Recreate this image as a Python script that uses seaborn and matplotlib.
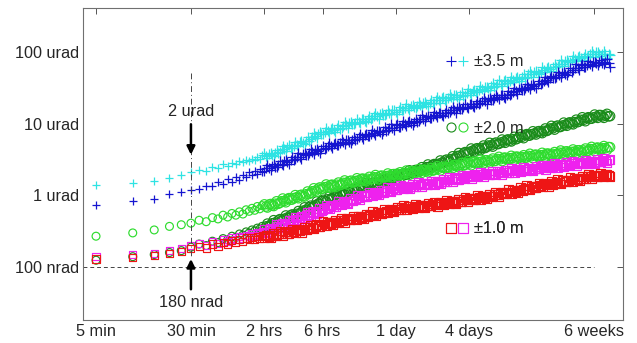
import matplotlib
matplotlib.use('Agg')
import matplotlib.pyplot as plt
from matplotlib.lines import Line2D
from matplotlib.legend_handler import HandlerTuple
from matplotlib.ticker import NullLocator
import seaborn as sns

# elapsed time in minutes (every 5 min up to 2 hrs, then thinned out)
minutes = [5, 10, 15, 20, 25, 30, 35, 40, 45, 50, 55, 60, 65, 70, 75, 80,
           85, 90, 95, 100, 105, 110, 115,
           120, 127, 135, 143, 151, 161, 170, 180, 191, 203,
           215, 228, 241, 256, 271, 287, 305, 323, 342, 363,
           385, 408, 432, 458, 486, 515, 546, 578, 613, 650,
           689, 730, 774, 820, 870, 922, 977, 1036, 1098, 1164,
           1234, 1308, 1386, 1469, 1558, 1651, 1750, 1855, 1966, 2084,
           2209, 2342, 2482, 2631, 2789, 2957, 3134, 3322, 3521, 3733,
           3957, 4194, 4446, 4712, 4995, 5295, 5612, 5949, 6306, 6684,
           7085, 7510, 7961, 8439, 8945, 9482, 10051, 10654, 11293, 11971,
           12689, 13450, 14257, 15113, 16019, 16980, 17999, 19079, 20224, 21438,
           22724, 24087, 25532, 27064, 28688, 30409, 32234, 34168, 36218, 38391,
           40695, 43136, 45725, 48468, 51376, 54459, 57726, 61190, 64861, 68753,
           72878, 77251, 81886]

# extra samples in between, from 2 hrs on
minutes_b = [124, 131, 139, 147, 156, 166, 175, 185, 197, 209,
             221, 235, 248, 264, 279, 296, 314, 333, 352, 374,
             397, 420, 445, 472, 501, 530, 562, 595, 631, 670,
             710, 752, 797, 845, 896, 950, 1006, 1067, 1131, 1199,
             1271, 1347, 1428, 1513, 1605, 1701, 1803, 1911, 2025, 2147,
             2275, 2412, 2556, 2710, 2873, 3046, 3228, 3422, 3627, 3845,
             4076, 4320, 4579, 4853, 5145, 5454, 5780, 6127, 6495, 6885,
             7298, 7735, 8200, 8692, 9213, 9766, 10353, 10974, 11632, 12330,
             13070, 13854, 14685, 15566, 16500, 17489, 18539, 19651, 20831, 22081,
             23406, 24810, 26298, 27876, 29549, 31321, 33201, 35193, 37305, 39543,
             41916, 44430, 47097, 49922, 52917, 56093, 59458, 63026, 66807, 70816,
             75064, 79569]

# tilt in urad, +/-3.5 m
cyan_35 = [1.38, 1.5, 1.6, 1.75, 1.9, 2.1, 2.25, 2.2, 2.45, 2.4, 2.7, 2.6, 2.85, 2.7, 3.0, 2.9,
           3.15, 3.0, 3.25, 3.1, 3.45, 3.25, 3.6,
           3.85, 3.34, 3.88, 3.49, 4.35, 4.06, 4.92, 4.10, 4.97, 4.62,
           5.61, 4.88, 5.67, 5.13, 6.45, 6.07, 7.41, 6.24, 7.62, 7.14,
           8.62, 7.43, 8.58, 7.65, 9.48, 8.77, 10.56, 8.75, 10.52, 9.72,
           11.73, 10.12, 11.66, 10.37, 12.82, 11.84, 14.21, 11.75, 14.11, 13.0,
           15.65, 13.47, 15.52, 13.8, 16.98, 15.59, 18.61, 15.31, 18.29, 16.76,
           20.08, 17.19, 19.69, 17.42, 21.43, 19.68, 23.52, 19.35, 23.2, 21.24,
           25.52, 21.9, 25.13, 22.25, 27.39, 25.15, 30.13, 24.75, 29.72, 27.45,
           33.11, 28.52, 32.86, 29.28, 36.27, 33.5, 40.21, 33.3, 40.0, 36.94,
           44.55, 38.36, 44.29, 39.43, 48.79, 45.12, 54.21, 44.91, 53.97, 49.82,
           60.5, 52.44, 60.87, 54.56, 68.05, 63.26, 76.61, 63.81, 77.18, 71.63,
           87.01, 75.44, 86.42, 76.36, 93.84, 86.11, 102.8, 84.51, 100.8, 88.27,
           101.1, 82.71, 90.64]
cyan_35_b = [3.5, 3.78, 3.66, 3.92, 3.91, 4.36, 4.39, 4.79, 4.64, 4.91,
             5.10, 5.51, 5.34, 5.76, 5.79, 6.51, 6.62, 7.28, 7.11, 7.6,
             7.84, 8.40, 8.08, 8.59, 8.51, 9.41, 9.43, 10.21, 9.82, 10.34,
             10.66, 11.44, 10.98, 11.65, 11.50, 12.70, 12.69, 13.71, 13.17, 13.83,
             14.23, 15.23, 14.62, 15.5, 15.24, 16.73, 16.62, 17.86, 17.07, 17.83,
             18.25, 19.43, 18.55, 19.57, 19.23, 21.12, 21.0, 22.58, 21.66, 22.6,
             23.2, 24.75, 23.67, 25.0, 24.58, 26.99, 26.9, 28.88, 27.73, 29.2,
             30.1, 32.24, 30.94, 32.9, 32.54, 35.95, 35.9, 38.85, 37.34, 39.3,
             40.5, 43.37, 41.71, 44.3, 43.78, 48.41, 48.4, 52.4, 50.37, 53.0,
             55.0, 59.28, 57.33, 61.3, 61.06, 67.88, 68.4, 74.45, 72.03, 76.2,
             79.1, 85.28, 81.38, 85.8, 84.19, 92.39, 91.8, 98.6, 94.08, 93.9,
             91.9, 93.5]
blue_35 = [0.73, 0.83, 0.9, 1.03, 1.1, 1.17, 1.22, 1.35, 1.33, 1.55, 1.42, 1.7, 1.55, 1.82, 1.65, 1.92,
           1.8, 2.1, 1.9, 2.2, 1.98, 2.35, 2.1,
           2.21, 2.68, 2.23, 2.70, 2.51, 3.05, 2.65, 3.08, 2.76, 3.45,
           3.21, 3.89, 3.24, 3.92, 3.63, 4.4, 3.81, 4.42, 3.95, 4.92,
           4.54, 5.45, 4.52, 5.42, 4.99, 6.02, 5.18, 5.96, 5.30, 6.57,
           6.07, 7.28, 6.03, 7.25, 6.68, 8.05, 6.94, 8.0, 7.13, 8.83,
           8.16, 9.81, 8.12, 9.77, 8.99, 10.81, 9.30, 10.71, 9.51, 11.77,
           10.86, 13.03, 10.76, 12.92, 11.88, 14.3, 12.31, 14.17, 12.6, 15.59,
           14.39, 17.27, 14.28, 17.15, 15.79, 19.01, 16.36, 18.85, 16.77, 20.76,
           19.17, 23.03, 19.05, 22.89, 21.1, 25.42, 21.9, 25.24, 22.57, 28.08,
           26.07, 31.48, 26.19, 31.62, 29.3, 35.49, 30.72, 35.59, 31.83, 39.59,
           36.96, 44.91, 37.62, 45.68, 42.58, 51.81, 45.17, 52.63, 47.35, 59.28,
           55.3, 67.2, 55.53, 66.68, 61.38, 73.81, 63.48, 73.13, 64.97, 77.04,
           68.16, 78.4, 62.1]
blue_35_b = [2.37, 2.39, 2.60, 2.52, 2.67, 2.77, 3.00, 2.90, 3.10, 3.09,
             3.44, 3.47, 3.78, 3.66, 3.86, 4.0, 4.31, 4.16, 4.44, 4.42,
             4.87, 4.87, 5.27, 5.06, 5.31, 5.47, 5.86, 5.62, 5.96, 5.89,
             6.51, 6.5, 7.04, 6.76, 7.11, 7.32, 7.84, 7.54, 8.01, 7.92,
             8.76, 8.76, 9.47, 9.11, 9.56, 9.83, 10.51, 10.09, 10.69, 10.56,
             11.65, 11.63, 12.56, 12.05, 12.64, 13.0, 13.92, 13.35, 14.16, 13.99,
             15.44, 15.42, 16.66, 16.0, 16.8, 17.28, 18.49, 17.75, 18.84, 18.62,
             20.57, 20.56, 22.23, 21.36, 22.45, 23.11, 24.75, 23.77, 25.36, 25.19,
             27.97, 28.11, 30.56, 29.51, 31.17, 32.26, 34.73, 33.51, 35.76, 35.52,
             39.66, 40.1, 43.89, 42.63, 45.3, 47.1, 51.06, 49.57, 53.2, 53.18,
             59.33, 60.0, 64.79, 62.23, 65.3, 67.1, 71.76, 68.87, 73.0, 69.12,
             73.13, 70.0]

# +/-2.0 m
lgreen_20 = [0.27, 0.3, 0.33, 0.37, 0.39, 0.41, 0.45, 0.43, 0.49, 0.47, 0.53, 0.5, 0.56, 0.53, 0.59, 0.55,
             0.63, 0.6, 0.66, 0.62, 0.7, 0.65, 0.72,
             0.749, 0.678, 0.758, 0.711, 0.827, 0.788, 0.904, 0.802, 0.915, 0.878,
             1.008, 0.913, 1.02, 0.965, 1.132, 1.085, 1.255, 1.122, 1.29, 1.248,
             1.419, 1.272, 1.408, 1.309, 1.508, 1.421, 1.614, 1.417, 1.602, 1.523,
             1.731, 1.551, 1.709, 1.581, 1.811, 1.698, 1.919, 1.677, 1.885, 1.783,
             2.017, 1.798, 1.98, 1.832, 2.097, 1.963, 2.216, 1.934, 2.172, 2.052,
             2.319, 2.065, 2.272, 2.099, 2.402, 2.25, 2.548, 2.23, 2.511, 2.38,
             2.696, 2.408, 2.657, 2.464, 2.828, 2.656, 3.007, 2.632, 2.954, 2.79,
             3.15, 2.804, 3.083, 2.849, 3.259, 3.051, 3.442, 3.004, 3.359, 3.16,
             3.556, 3.154, 3.455, 3.18, 3.624, 3.379, 3.798, 3.302, 3.692, 3.475,
             3.915, 3.477, 3.814, 3.514, 4.011, 3.745, 4.215, 3.669, 4.108, 3.87,
             4.36, 3.873, 4.255, 3.929, 4.493, 4.203, 4.739, 4.133, 4.635, 4.344,
             4.869, 4.301, 4.692]
lgreen_20_b = [0.70, 0.743, 0.728, 0.765, 0.764, 0.828, 0.837, 0.888, 0.870, 0.915,
               0.942, 1.0, 0.98, 1.038, 1.046, 1.141, 1.162, 1.242, 1.227, 1.3,
               1.326, 1.394, 1.352, 1.408, 1.393, 1.494, 1.494, 1.570, 1.524, 1.586,
               1.618, 1.70, 1.642, 1.70, 1.673, 1.786, 1.777, 1.857, 1.793, 1.857,
               1.885, 1.970, 1.902, 1.97, 1.937, 2.064, 2.052, 2.142, 2.067, 2.138,
               2.167, 2.263, 2.182, 2.257, 2.219, 2.366, 2.359, 2.47, 2.389, 2.479,
               2.52, 2.639, 2.553, 2.649, 2.612, 2.793, 2.784, 2.915, 2.811, 2.906,
               2.944, 3.072, 2.963, 3.063, 3.011, 3.208, 3.187, 3.327, 3.196, 3.292,
               3.323, 3.456, 3.319, 3.419, 3.347, 3.554, 3.517, 3.657, 3.512, 3.62,
               3.659, 3.81, 3.664, 3.779, 3.705, 3.938, 3.903, 4.063, 3.908, 4.031,
               4.075, 4.244, 4.089, 4.225, 4.151, 4.42, 4.388, 4.577, 4.41, 4.525,
               4.55, 4.712]
dgreen_20 = [0.125, 0.14, 0.15, 0.16, 0.17, 0.19, 0.21, 0.2, 0.23, 0.22, 0.25, 0.24, 0.27, 0.26, 0.29, 0.28,
             0.31, 0.3, 0.33, 0.32, 0.35, 0.34, 0.37,
             0.344, 0.404, 0.389, 0.451, 0.405, 0.467, 0.452, 0.525, 0.48, 0.543,
             0.514, 0.605, 0.582, 0.681, 0.617, 0.718, 0.703, 0.824, 0.76, 0.867,
             0.819, 0.958, 0.917, 1.057, 0.943, 1.083, 1.045, 1.207, 1.098, 1.234,
             1.166, 1.365, 1.299, 1.489, 1.321, 1.506, 1.446, 1.66, 1.501, 1.678,
             1.575, 1.831, 1.742, 1.998, 1.773, 2.023, 1.943, 2.231, 2.02, 2.258,
             2.121, 2.468, 2.349, 2.695, 2.391, 2.73, 2.644, 3.061, 2.795, 3.151,
             2.985, 3.503, 3.362, 3.89, 3.48, 4.006, 3.879, 4.494, 4.064, 4.538,
             4.258, 4.949, 4.705, 5.391, 4.778, 5.447, 5.224, 5.992, 5.406, 6.023,
             5.64, 6.538, 6.203, 7.092, 6.271, 7.133, 6.827, 7.813, 7.048, 7.854,
             7.366, 8.554, 8.129, 9.31, 8.245, 9.394, 9.006, 10.32, 9.33, 10.41,
             9.765, 11.34, 10.74, 12.25, 10.8, 12.26, 11.7, 13.36, 12.03, 13.13,
             12.04, 13.67, 12.71]
dgreen_20_b = [0.37, 0.373, 0.409, 0.418, 0.448, 0.444, 0.471, 0.491, 0.526, 0.521,
               0.553, 0.559, 0.612, 0.631, 0.683, 0.683, 0.732, 0.77, 0.833, 0.833,
               0.881, 0.885, 0.964, 0.979, 1.044, 1.03, 1.089, 1.128, 1.203, 1.186,
               1.254, 1.261, 1.366, 1.379, 1.463, 1.433, 1.506, 1.551, 1.645, 1.612,
               1.694, 1.692, 1.832, 1.85, 1.963, 1.925, 2.024, 2.085, 2.213, 2.17,
               2.281, 2.28, 2.47, 2.495, 2.648, 2.597, 2.754, 2.861, 3.062, 3.027,
               3.21, 3.236, 3.535, 3.602, 3.854, 3.811, 4.041, 4.2, 4.453, 4.36,
               4.579, 4.572, 4.947, 4.992, 5.292, 5.182, 5.442, 5.6, 5.924, 5.787,
               6.064, 6.04, 6.523, 6.567, 6.945, 6.787, 7.111, 7.302, 7.723, 7.546,
               7.92, 7.903, 8.548, 8.62, 9.132, 8.938, 9.381, 9.649, 10.22, 10.01,
               10.5, 10.48, 11.29, 11.34, 11.96, 11.66, 12.19, 12.49, 13.18, 12.61,
               12.95, 12.63]

# +/-1.0 m
magenta_10 = [0.14, 0.15, 0.155, 0.17, 0.18, 0.2, 0.215, 0.2, 0.23, 0.215, 0.24, 0.23, 0.255, 0.24, 0.27, 0.255,
              0.28, 0.265, 0.29, 0.275, 0.3, 0.29, 0.315,
              0.335, 0.3, 0.346, 0.335, 0.389, 0.355, 0.402, 0.381, 0.447, 0.431,
              0.499, 0.446, 0.515, 0.498, 0.577, 0.526, 0.593, 0.561, 0.657, 0.631,
              0.725, 0.644, 0.736, 0.708, 0.814, 0.739, 0.827, 0.778, 0.907, 0.865,
              0.994, 0.884, 1.002, 0.957, 1.094, 0.984, 1.093, 1.022, 1.182, 1.118,
              1.275, 1.125, 1.277, 1.219, 1.378, 1.228, 1.35, 1.248, 1.429, 1.339,
              1.511, 1.32, 1.482, 1.401, 1.583, 1.41, 1.559, 1.447, 1.664, 1.566,
              1.776, 1.558, 1.757, 1.668, 1.894, 1.694, 1.873, 1.739, 1.989, 1.859,
              2.097, 1.828, 2.051, 1.935, 2.185, 1.943, 2.136, 1.972, 2.251, 2.104,
              2.368, 2.063, 2.311, 2.178, 2.456, 2.182, 2.395, 2.209, 2.522, 2.357,
              2.656, 2.314, 2.593, 2.445, 2.757, 2.452, 2.692, 2.483, 2.837, 2.652,
              2.988, 2.604, 2.913, 2.742, 3.086, 2.737, 3.0, 2.762, 3.15, 2.92,
              3.262, 2.818, 3.131]
magenta_10_b = [0.31, 0.333, 0.329, 0.349, 0.364, 0.389, 0.386, 0.41, 0.413, 0.453,
                0.462, 0.494, 0.49, 0.519, 0.539, 0.577, 0.569, 0.603, 0.607, 0.663,
                0.671, 0.713, 0.701, 0.738, 0.761, 0.81, 0.795, 0.837, 0.838, 0.91,
                0.92, 0.979, 0.954, 0.997, 1.022, 1.078, 1.051, 1.099, 1.092, 1.176,
                1.181, 1.246, 1.215, 1.27, 1.288, 1.345, 1.298, 1.342, 1.32, 1.408,
                1.399, 1.462, 1.41, 1.459, 1.479, 1.545, 1.497, 1.556, 1.537, 1.646,
                1.644, 1.725, 1.672, 1.737, 1.77, 1.856, 1.799, 1.87, 1.837, 1.955,
                1.942, 2.025, 1.951, 2.016, 2.042, 2.129, 2.052, 2.12, 2.08, 2.212,
                2.193, 2.285, 2.199, 2.269, 2.295, 2.391, 2.301, 2.375, 2.33, 2.479,
                2.459, 2.563, 2.467, 2.547, 2.577, 2.686, 2.586, 2.67, 2.621, 2.789,
                2.767, 2.884, 2.771, 2.856, 2.884, 2.999, 2.882, 2.97, 2.91, 3.07,
                3.02, 3.121]
red_10 = [0.13, 0.135, 0.145, 0.155, 0.165, 0.18, 0.195, 0.185, 0.21, 0.195, 0.22, 0.21, 0.235, 0.22, 0.245, 0.23,
          0.255, 0.24, 0.262, 0.245, 0.27, 0.25, 0.275,
          0.254, 0.281, 0.259, 0.298, 0.28, 0.318, 0.278, 0.313, 0.297, 0.336,
          0.3, 0.332, 0.307, 0.356, 0.339, 0.387, 0.342, 0.39, 0.373, 0.428,
          0.384, 0.423, 0.393, 0.453, 0.426, 0.483, 0.424, 0.478, 0.454, 0.516,
          0.462, 0.51, 0.475, 0.548, 0.518, 0.59, 0.519, 0.587, 0.56, 0.637,
          0.572, 0.634, 0.591, 0.683, 0.638, 0.719, 0.627, 0.702, 0.662, 0.747,
          0.665, 0.729, 0.673, 0.769, 0.719, 0.81, 0.708, 0.795, 0.752, 0.85,
          0.757, 0.833, 0.771, 0.883, 0.827, 0.934, 0.816, 0.917, 0.871, 0.988,
          0.885, 0.977, 0.908, 1.044, 0.983, 1.113, 0.977, 1.102, 1.048, 1.193,
          1.07, 1.185, 1.103, 1.272, 1.199, 1.363, 1.198, 1.354, 1.288, 1.466,
          1.311, 1.448, 1.345, 1.546, 1.454, 1.648, 1.445, 1.629, 1.547, 1.755,
          1.57, 1.734, 1.606, 1.843, 1.73, 1.956, 1.711, 1.926, 1.824, 2.046,
          1.81, 1.976, 1.814]
red_10_b = [0.278, 0.27, 0.279, 0.275, 0.295, 0.294, 0.308, 0.298, 0.309, 0.314,
            0.329, 0.319, 0.33, 0.329, 0.356, 0.358, 0.379, 0.371, 0.389, 0.4,
            0.42, 0.407, 0.423, 0.418, 0.448, 0.447, 0.47, 0.455, 0.473, 0.482,
            0.506, 0.49, 0.511, 0.506, 0.545, 0.546, 0.575, 0.559, 0.583, 0.595,
            0.627, 0.61, 0.636, 0.631, 0.671, 0.666, 0.694, 0.668, 0.69, 0.698,
            0.728, 0.701, 0.724, 0.71, 0.756, 0.75, 0.784, 0.757, 0.783, 0.794,
            0.829, 0.801, 0.829, 0.816, 0.87, 0.865, 0.903, 0.872, 0.907, 0.923,
            0.969, 0.939, 0.976, 0.964, 1.033, 1.031, 1.083, 1.049, 1.092, 1.115,
            1.172, 1.139, 1.186, 1.175, 1.261, 1.262, 1.327, 1.289, 1.342, 1.37,
            1.437, 1.392, 1.446, 1.428, 1.529, 1.526, 1.601, 1.55, 1.611, 1.64,
            1.72, 1.666, 1.727, 1.702, 1.819, 1.811, 1.895, 1.833, 1.9, 1.912,
            1.983, 1.898]

x_ticks = [5, 30, 120, 360, 1440, 5760, 60480]
x_labels = ['5 min', '30 min', '2 hrs', '6 hrs', '1 day', '4 days', '6 weeks']
y_ticks = [0.1, 1, 10, 100]
y_labels = ['100 nrad', '1 urad', '10 urad', '100 urad']

N_EARLY = 23  # samples before 2 hrs are drawn a bit smaller

C_CYAN, C_BLUE = '#2ee3e3', '#1515d0'
C_LGREEN, C_DGREEN = '#2fdc2f', '#1a8c1a'
C_MAG, C_RED = '#ee22ee', '#ee1515'
FS = 11.7

sns.set_style('white')
plt.rcParams['font.family'] = ['Liberation Sans', 'DejaVu Sans']

fig = plt.figure(figsize=(6.37, 3.43), dpi=100)
ax = fig.add_axes([83 / 637, 23 / 343, 540 / 637, 312 / 343])

# marker, colour, size early, size later
series = [
    (cyan_35, cyan_35_b, '+', C_CYAN, 34, 52),
    (blue_35, blue_35_b, '+', C_BLUE, 34, 52),
    (dgreen_20, dgreen_20_b, 'o', C_DGREEN, 32, 46),
    (lgreen_20, lgreen_20_b, 'o', C_LGREEN, 32, 46),
    (magenta_10, magenta_10_b, 's', C_MAG, 26, 40),
    (red_10, red_10_b, 's', C_RED, 26, 40),
]
for vals, vals_b, mk, col, s_early, s_late in series:
    parts = [(minutes[:N_EARLY], vals[:N_EARLY], s_early),
             (minutes[N_EARLY:] + minutes_b, vals[N_EARLY:] + vals_b, s_late)]
    for xs, ys, size in parts:
        if mk == '+':
            sns.scatterplot(x=xs, y=ys, marker='+', color=col, s=size,
                            linewidth=0.9, ax=ax)
        else:
            sns.scatterplot(x=xs, y=ys, marker=mk, color=col, s=size,
                            facecolors='none', edgecolor=col, linewidth=0.85, ax=ax)

ax.set_xscale('log')
ax.set_yscale('log')
ax.set_xlim(3.91, 104500)
ax.set_ylim(0.01836, 408)

# reference lines
ax.hlines(0.1, 3.91, 60480, colors='#444444', linestyles=(0, (4, 3)), lw=0.7)
ax.plot([30, 30], [51, 0.14], color='#444444', ls=(0, (6, 3, 1, 3)), lw=0.7)

# arrows and labels at 30 min
ax.annotate('', xy=(30, 3.37), xytext=(30, 10.7),
            arrowprops=dict(arrowstyle='-|>', color='k', lw=1.8, mutation_scale=12))
ax.text(30, 14.7, '2 urad', ha='center', va='center', fontsize=FS)
ax.annotate('', xy=(30, 0.142), xytext=(30, 0.045),
            arrowprops=dict(arrowstyle='-|>', color='k', lw=1.8, mutation_scale=12))
ax.text(30, 0.0327, '180 nrad', ha='center', va='center', fontsize=FS)

ax.set_xticks(x_ticks)
ax.set_xticklabels(x_labels)
ax.set_yticks(y_ticks)
ax.set_yticklabels(y_labels)
ax.xaxis.set_minor_locator(NullLocator())
ax.yaxis.set_minor_locator(NullLocator())
ax.tick_params(axis='both', which='major', direction='in', length=4, width=0.7,
               color='#555555', labelsize=FS, top=True, right=True, pad=3)
for sp in ax.spines.values():
    sp.set_color('#707070')
    sp.set_linewidth(0.8)
ax.set_xlabel('')
ax.set_ylabel('')

# group labels
def pair(mk, c1, c2):
    kw = dict(marker=mk, linestyle='none', markersize=6.5, markeredgewidth=0.8)
    if mk != '+':
        kw['markerfacecolor'] = 'none'
    return (Line2D([], [], color=c1, markeredgecolor=c1, **kw),
            Line2D([], [], color=c2, markeredgecolor=c2, **kw))

labels = [
    ('+', C_BLUE, C_CYAN, '\u00b13.5 m', 0.827),
    ('o', C_DGREEN, C_LGREEN, '\u00b12.0 m', 0.615),
    ('s', C_RED, C_MAG, '\u00b11.0 m', 0.292),
]
for mk, c1, c2, txt, yy in labels:
    leg = ax.legend(handles=[pair(mk, c1, c2)], labels=[txt],
                    handler_map={tuple: HandlerTuple(ndivide=None, pad=0.1)},
                    loc='center left', bbox_to_anchor=(0.672, yy), frameon=False,
                    borderpad=0, borderaxespad=0, handlelength=1.4, handletextpad=0.3,
                    fontsize=FS)
    ax.add_artist(leg)

fig.savefig('out.png', dpi=100)
